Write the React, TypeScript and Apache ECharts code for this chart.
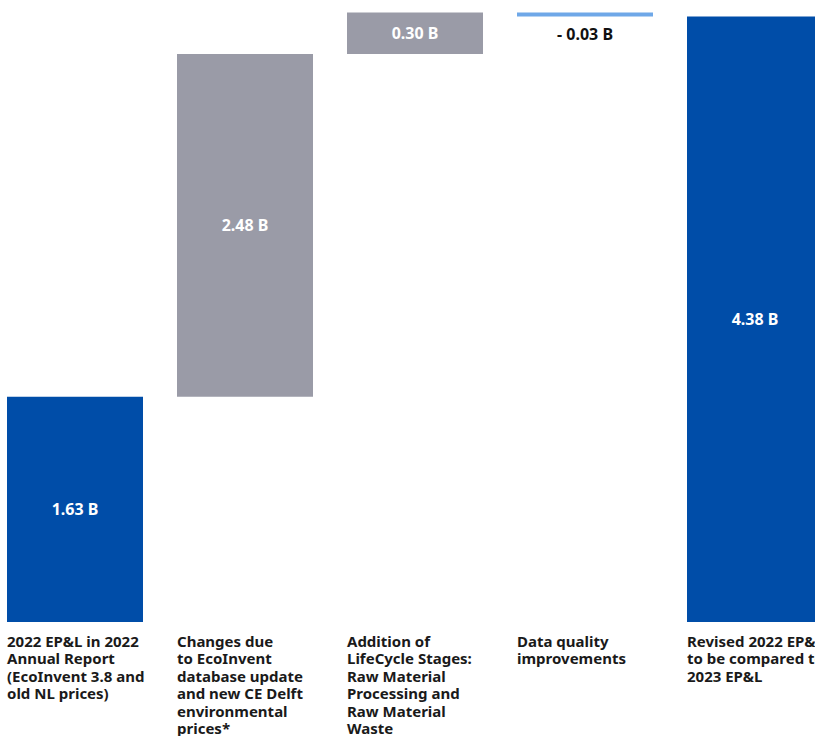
import React, { useEffect, useRef } from "react";
import * as echarts from "echarts";

const categories = [
  "2022 EP&L in 2022\nAnnual Report\n(EcoInvent 3.8 and\nold NL prices)",
  "Changes due\nto EcoInvent\ndatabase update\nand new CE Delft\nenvironmental\nprices*",
  "Addition of\nLifeCycle Stages:\nRaw Material\nProcessing and\nRaw Material\nWaste",
  "Data quality\nimprovements",
  "Revised 2022 EP&L\nto be compared to\n2023 EP&L",
];
const changes = [1.63, 2.48, 0.3, -0.03, 4.38];
const isTotal = [true, false, false, false, true];
const valueLabels = ["1.63 B", "2.48 B", "0.30 B", "- 0.03 B", "4.38 B"];

const BLUE = "#004da8";
const GRAY = "#9a9ba7";
const LIGHT = "#6fa8e8";
const FONT = "'Noto Sans', sans-serif";

export default function App() {
  const ref = useRef<HTMLDivElement>(null);
  useEffect(() => {
    if (!ref.current) return;
    const chart = echarts.init(ref.current, null, { renderer: "svg" });

    const base: number[] = [];
    const visible: number[] = [];
    let running = 0;
    changes.forEach((v, i) => {
      if (isTotal[i]) {
        base.push(0);
        visible.push(v);
        running = v;
      } else if (v >= 0) {
        base.push(running);
        visible.push(v);
        running += v;
      } else {
        running += v;
        base.push(running);
        visible.push(-v);
      }
    });

    const colorFor = (i: number) =>
      isTotal[i] ? BLUE : changes[i] < 0 ? LIGHT : GRAY;

    chart.setOption({
      animation: false,
      grid: { left: 0, right: 0, top: -1, bottom: 114 },
      xAxis: {
        type: "category",
        data: categories,
        axisLine: { show: false },
        axisTick: { show: false },
        axisLabel: { show: false },
        splitLine: { show: false },
      },
      yAxis: {
        type: "value",
        min: 0,
        max: 4.5,
        show: false,
        splitLine: { show: false },
      },
      series: [
        {
          type: "bar",
          stack: "w",
          barWidth: 136,
          data: categories.map(() => 0),
          itemStyle: { color: "transparent" },
          silent: true,
          label: {
            show: true,
            position: [0, 10],
            align: "left",
            verticalAlign: "top",
            formatter: (p: any) => categories[p.dataIndex],
            fontFamily: FONT,
            fontSize: 15,
            fontWeight: "bold",
            lineHeight: 17.5,
            color: "#1a1a1a",
          },
        },
        {
          type: "bar",
          stack: "w",
          barWidth: 136,
          data: base,
          itemStyle: { color: "transparent" },
          silent: true,
        },
        {
          type: "bar",
          stack: "w",
          barWidth: 136,
          data: visible.map((v, i) => {
            const neg = changes[i] < 0;
            return {
              value: v,
              itemStyle: { color: colorFor(i) },
              label: neg
                ? {
                    show: true,
                    position: "bottom",
                    distance: 9,
                    color: "#111111",
                    formatter: valueLabels[i],
                  }
                : {
                    show: true,
                    position: "inside",
                    color: "#ffffff",
                    formatter: valueLabels[i],
                  },
            };
          }),
          label: {
            fontFamily: FONT,
            fontSize: 16,
            fontWeight: "bold",
          },
        },
      ],
    });
    return () => chart.dispose();
  }, []);
  return (
    <div
      style={{
        position: "absolute",
        left: 0,
        top: 0,
        width: 815,
        height: 736,
        overflow: "hidden",
      }}
    >
      <div
        ref={ref}
        style={{ position: "absolute", left: -10, top: 0, width: 850, height: 736 }}
      />
    </div>
  );
}
